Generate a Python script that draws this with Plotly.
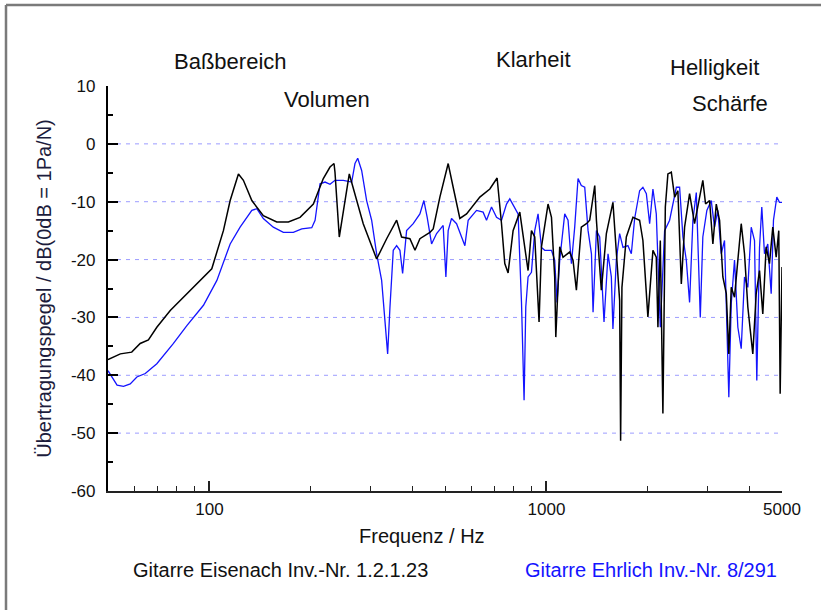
import plotly.graph_objects as go

# ---------------- data ----------------
eisenach_freq = [50, 54.4, 58.8, 62.3, 65.9, 69.8, 76.5, 85.7, 96.0, 101.6, 110.0, 115.2, 121.9, 126.1,
                 133.6, 144.5, 158.4, 171.5, 185.7, 203.4, 217.7, 227.9, 234.2, 235.8, 242.8, 260.0,
                 286.0, 313.4, 335.6, 359.3, 371.7, 393.4, 407.3, 421.2, 451.0, 461.3, 482.8, 511.0,
                 528.7, 553.4, 579.3, 634.3, 679.2, 713.9, 735.6, 752.3, 769.5, 796.2, 833.5, 852.5,
                 882.0, 902.6, 923.2, 950.8, 966.5, 1011, 1035, 1058, 1066, 1095, 1120, 1172, 1199,
                 1227, 1269, 1314, 1344, 1391, 1407, 1455, 1506, 1575, 1612, 1649, 1660, 1675, 1726,
                 1806, 1890, 1933, 2000, 2070, 2118, 2142, 2177, 2216, 2253, 2293, 2347, 2401, 2455,
                 2513, 2570, 2659, 2751, 2814, 2911, 2966, 3048, 3118, 3191, 3264, 3338, 3417, 3477,
                 3535, 3615, 3698, 3784, 3870, 3959, 4096, 4192, 4288, 4385, 4487, 4590, 4695, 4805,
                 4891, 4938, 5000]
eisenach_db = [-37.3, -36.3, -36.0, -34.5, -33.9, -31.7, -28.8, -25.9, -23.0, -21.6, -15.0, -9.8, -5.2, -6.3,
               -9.8, -12.4, -13.5, -13.5, -12.7, -10.4, -6.0, -4.0, -3.4, -4.9, -16.1, -5.2,
               -13.8, -19.9, -16.4, -13.2, -16.1, -16.4, -18.4, -16.4, -15.3, -14.7, -9.2, -3.4,
               -7.5, -12.9, -12.1, -9.2, -7.8, -5.9, -13.8, -20.7, -22.3, -15.0, -11.8, -15.5,
               -21.9, -15.0, -16.1, -30.8, -17.8, -10.4, -12.7, -23.0, -33.4, -17.8, -19.6, -18.7, -20.1,
               -25.3, -14.4, -13.8, -13.2, -7.2, -13.2, -25.3, -15.5, -10.1, -19.0, -27.1, -51.3, -24.8, -16.1,
               -12.7, -13.2, -16.7, -29.9, -18.4, -19.6, -31.7, -16.7, -46.6, -10.9, -5.2, -4.9, -9.2, -8.1,
               -24.2, -14.4, -8.6, -13.8, -10.9, -6.3, -10.4, -9.8, -17.3, -10.4, -13.2, -23.0, -25.9, -36.3,
               -24.8, -26.5, -20.1, -13.8, -19.0, -28.2, -36.3, -25.9, -21.9, -29.4, -17.8, -20.7, -14.4, -19.6,
               -15.0, -43.2, -21.3]

ehrlich_freq = [50, 53.2, 55.6, 58.2, 60.9, 64.5, 69.8, 78.2, 85.7, 96.0, 105.2, 115.2, 123.3, 133.6,
                138.2, 144.5, 154.7, 165.7, 177.4, 187.9, 201.2, 205.8, 212.9, 220.3, 227.9, 235.8,
                249.6, 264.3, 270.3, 275.4, 282.9, 292.7, 302.9, 313.4, 324.3, 331.7, 337.9, 343.3,
                351.1, 359.3, 367.5, 374.3, 384.6, 402.4, 421.2, 432.8, 442.7, 456.2, 472.1, 493.8,
                503.0, 511.0, 522.8, 541.1, 572.8, 585.8, 620.2, 648.8, 664.0, 687.1, 711.0, 735.6,
                761.2, 778.5, 805.4, 823.8, 843.2, 858.3, 868.3, 882.0, 902.6, 923.2, 944.3, 966.5,
                988.6, 1035, 1058, 1075, 1095, 1133, 1159, 1186, 1213, 1241, 1269, 1299, 1329, 1360,
                1375, 1407, 1439, 1482, 1523, 1558, 1575, 1612, 1649, 1687, 1745, 1786, 1827, 1890,
                1933, 1979, 2024, 2070, 2118, 2177, 2242, 2320, 2429, 2484, 2541, 2600, 2659, 2720,
                2784, 2861, 2911, 2992, 3083, 3153, 3225, 3301, 3376, 3477, 3535, 3615, 3698, 3784,
                3870, 3959, 4052, 4144, 4209, 4288, 4355, 4436, 4537, 4644, 4717, 4825, 4915, 5000]
ehrlich_db = [-39.2, -41.7, -41.9, -41.5, -40.3, -39.7, -38.0, -34.5, -31.4, -27.9, -23.6, -17.3, -14.4, -11.5,
              -11.2, -12.9, -14.4, -15.3, -15.3, -14.7, -14.5, -13.2, -6.9, -6.6, -7.0, -6.3,
              -6.3, -6.6, -3.4, -2.5, -4.6, -9.8, -13.2, -19.0, -23.6, -30.5, -36.3, -28.2,
              -18.4, -17.6, -18.4, -22.4, -15.0, -13.8, -12.1, -9.8, -12.7, -17.3, -15.5, -14.1,
              -23.0, -15.0, -12.9, -13.8, -17.6, -13.2, -11.5, -11.8, -13.2, -10.9, -12.7, -13.2,
              -10.4, -9.5, -11.2, -12.1, -27.4, -44.3, -28.2, -23.0, -22.2, -15.0, -12.1, -17.9,
              -18.4, -18.4, -20.1, -27.4, -20.1, -12.1, -13.2, -20.7, -14.4, -6.0, -7.2, -7.5, -15.0, -19.0,
              -29.1, -15.0, -16.1, -30.8, -19.0, -23.0, -32.0, -20.1, -15.5, -17.9, -17.6, -19.0, -12.9, -8.1,
              -7.5, -8.6, -13.8, -7.8, -12.1, -31.7, -15.0, -13.2, -7.5, -7.5, -16.1, -20.1, -27.4, -13.2,
              -8.4, -30.0, -16.1, -11.5, -9.8, -14.4, -11.5, -19.0, -16.7, -43.8, -27.6, -20.1, -31.7, -35.4,
              -23.0, -24.8, -14.4, -16.7, -40.9, -17.9, -10.9, -19.0, -17.3, -25.9, -13.2, -9.2, -10.1, -10.1]

y_ticks = [10, 0, -10, -20, -30, -40, -50, -60]
y_tick_labels = ["10", "0", "-10", "-20", "-30", "-40", "-50", "-60"]
y_minor = [5, -5, -15, -25, -35, -45, -55]
grid_levels = [0, -10, -20, -30, -40, -50]
x_ticks = [100, 1000, 5000]
x_tick_labels = ["100", "1000", "5000"]
x_minor = [60, 70, 80, 90, 200, 300, 400, 500, 600, 700, 800, 900, 2000, 3000, 4000]

# ---------------- layout helpers ----------------
W, H = 821, 610
L, R, T, B = 108, 39, 86, 119
PW, PH = W - L - R, H - T - B


def px(x):
    return (x - L) / PW


def py(y):
    return (H - B - y) / PH


FAM = "Liberation Sans, Arial, Helvetica"
TICKFONT = dict(family=FAM, size=17, color="#111")

fig = go.Figure()
fig.add_trace(go.Scatter(x=ehrlich_freq, y=ehrlich_db, mode="lines",
                         line=dict(color="#1414ff", width=1.3), showlegend=False))
fig.add_trace(go.Scatter(x=eisenach_freq, y=eisenach_db, mode="lines",
                         line=dict(color="#000000", width=1.5), showlegend=False))

shapes = []
for g in grid_levels:
    shapes.append(dict(type="line", xref="paper", yref="y", x0=0, x1=1, y0=g, y1=g,
                       line=dict(color="#9c9cff", width=1, dash="4px,5px"), layer="below"))
# figure frame (gray border)
shapes.append(dict(type="line", xref="paper", yref="paper", x0=px(6), x1=px(821), y0=py(5), y1=py(5),
                   line=dict(color="#7a7a7a", width=2.5)))
shapes.append(dict(type="line", xref="paper", yref="paper", x0=px(6), x1=px(6), y0=py(5), y1=py(610),
                   line=dict(color="#7a7a7a", width=2.5)))

annotations = []


def label(text, cx, cy, color="#111", size=20):
    annotations.append(dict(text=text, xref="paper", yref="paper", x=px(cx), y=py(cy),
                            xanchor="center", yanchor="middle", showarrow=False,
                            font=dict(family=FAM, size=size, color=color)))


label("Baßbereich", 230, 62, size=22)
label("Volumen", 327, 100, size=22)
label("Klarheit", 533, 60, size=22)
label("Helligkeit", 714, 68, size=22)
label("Schärfe", 730, 103, size=22)
label("Frequenz / Hz", 422, 536)
label("Gitarre Eisenach Inv.-Nr. 1.2.1.23", 280, 570)
label("Gitarre Ehrlich Inv.-Nr. 8/291", 651, 570, color="#1414ff")

fig.update_layout(
    width=W, height=H,
    margin=dict(l=L, r=R, t=T, b=B, pad=0),
    paper_bgcolor="white", plot_bgcolor="white",
    shapes=shapes, annotations=annotations,
    xaxis=dict(type="log", range=[1.69897, 3.69897], showgrid=False, zeroline=False,
               showline=True, linecolor="#222", linewidth=1.5,
               ticks="inside", ticklen=10, tickwidth=1.5, tickcolor="#222",
               tickvals=x_ticks, ticktext=x_tick_labels, tickfont=TICKFONT,
               ticklabelstandoff=2,
               minor=dict(tickvals=x_minor, ticks="inside", ticklen=5, tickwidth=1, tickcolor="#222")),
    yaxis=dict(range=[-60, 10], showgrid=False, zeroline=False,
               showline=True, linecolor="#000", linewidth=2.2,
               ticks="inside", ticklen=10, tickwidth=2, tickcolor="#000",
               tickvals=y_ticks, ticktext=y_tick_labels, tickfont=TICKFONT, ticklabelstandoff=7,
               minor=dict(tickvals=y_minor, ticks="inside", ticklen=5, tickwidth=1.5, tickcolor="#000"),
               title=dict(text="Übertragungspegel / dB(0dB = 1Pa/N)", standoff=14,
                          font=dict(family=FAM, size=20, color="#1c1c3c"))),
)

fig.write_html("out.html")
